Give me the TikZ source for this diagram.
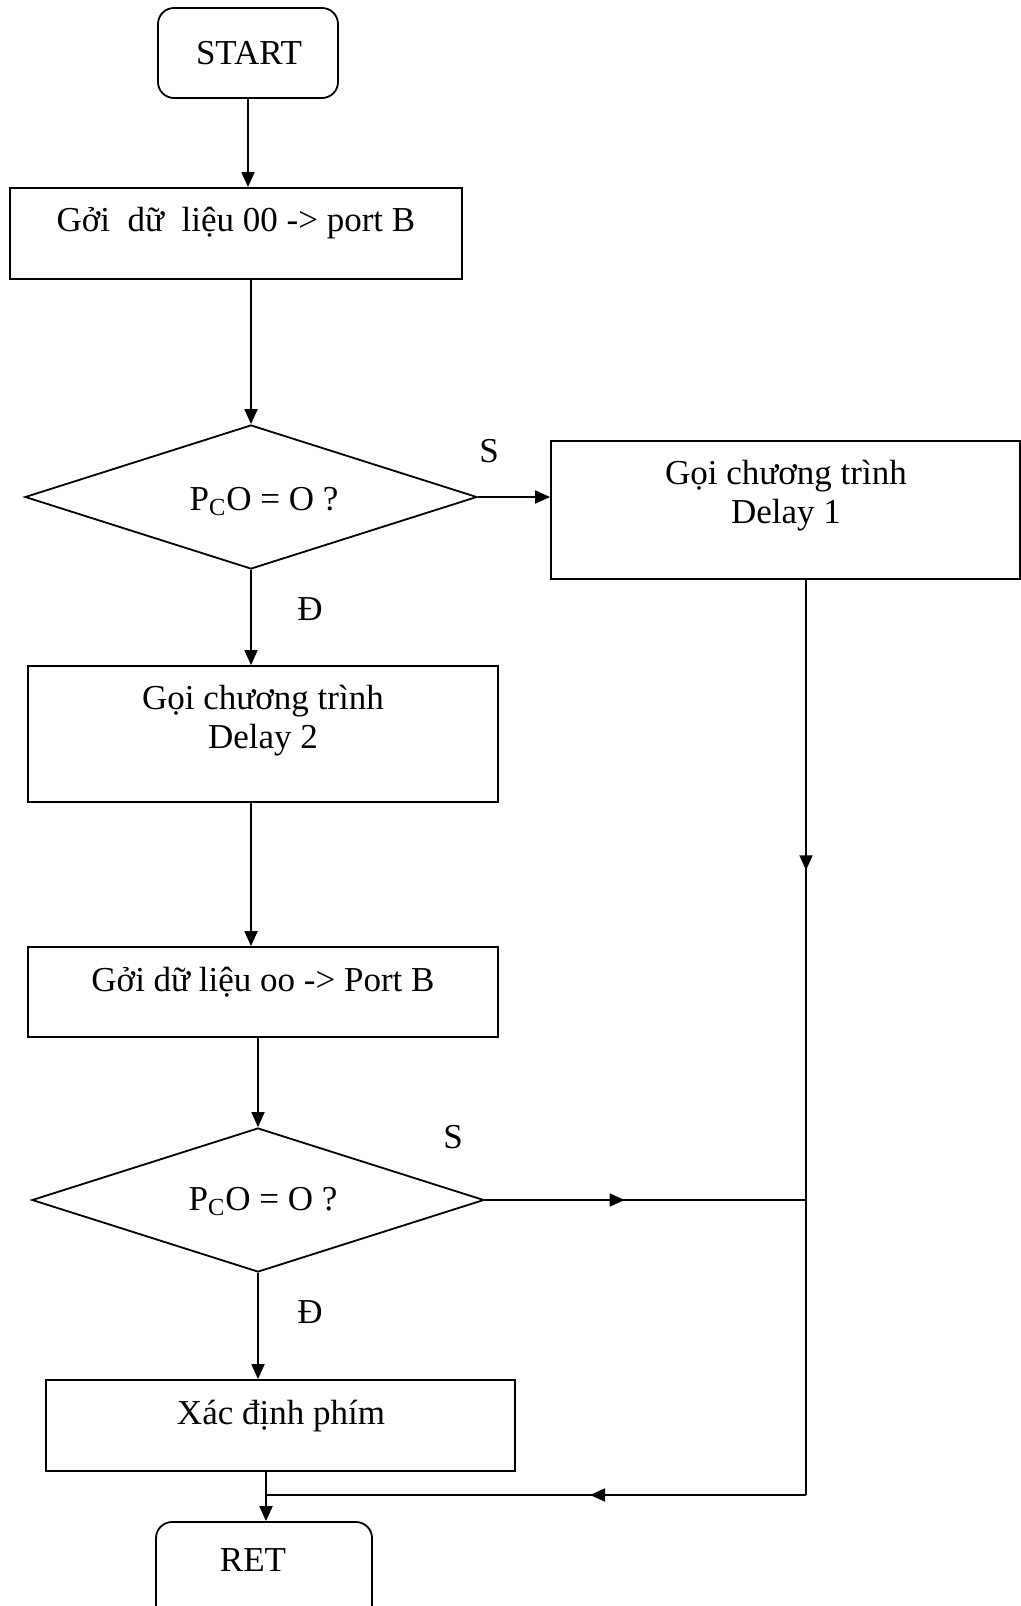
\documentclass[tikz,border=0pt]{standalone}
\usepackage{fontspec}
\setmainfont{Liberation Serif}
\usetikzlibrary{shapes.geometric,arrows.meta,decorations.markings}

\tikzset{
  box/.style={draw, line width=0.9pt, inner sep=0pt},
  term/.style={box, rounded corners=8pt},
  cond/.style={draw, line width=0.9pt, diamond, aspect=3.1, inner sep=0pt},
  txt/.style={anchor=base, inner sep=0pt, align=center, font=\fontsize{17.5}{19.5}\selectfont},
  flow/.style={line width=0.9pt, -{Triangle[length=7.5pt,width=6.5pt]}},
  link/.style={line width=0.9pt},
  midarrow/.style={postaction={decorate}, decoration={markings,
    mark=at position #1 with {\arrow{Triangle[length=7.5pt,width=6.5pt]}}}}
}

\begin{document}
\begin{tikzpicture}[x=0.5pt,y=-0.5pt]
\useasboundingbox (0,0) rectangle (1021,1606);
\clip (0,0) rectangle (1021,1606);
%blocks
\node[term, minimum width=90pt, minimum height=45pt] (start) at (248,53) {};
\node[box, minimum width=226pt, minimum height=45.5pt] (send1) at (236,233.5) {};
\node[cond, minimum width=226pt, minimum height=72pt] (test1) at (251,497) {};
\node[box, minimum width=234.5pt, minimum height=69pt] (delay1) at (785.5,510) {};
\node[box, minimum width=235pt, minimum height=68pt] (delay2) at (263,734) {};
\node[box, minimum width=235pt, minimum height=45pt] (send2) at (263,992) {};
\node[cond, minimum width=226pt, minimum height=72pt] (test2) at (258,1200) {};
\node[box, minimum width=234.5pt, minimum height=45.5pt] (key) at (280.5,1425.5) {};
\node[term, minimum width=108pt, minimum height=50pt] (ret) at (264,1572) {};
%texts
\node[txt] (tstart) at (249,64.5) {START};
\node[txt] (tsend1) at (236,231) {Gởi~ dữ~ liệu 00 -> port B};
\node[txt] (ttest1) at (264,510) {P\textsubscript{C}O = O ?};
\node[txt] (tdelay1) at (786,523) {Gọi chương trình\\Delay 1};
\node[txt] (tdelay2) at (263,748) {Gọi chương trình\\Delay 2};
\node[txt] (tsend2) at (263,991) {Gởi dữ liệu oo -> Port B};
\node[txt] (ttest2) at (263,1210) {P\textsubscript{C}O = O ?};
\node[txt] (tkey) at (281,1424) {Xác định phím};
\node[txt] (tret) at (253,1571) {RET};
%labels
\node[txt] (s1) at (489,462) {S};
\node[txt] (d1) at (310,620) {Đ};
\node[txt] (s2) at (453,1148) {S};
\node[txt] (d2) at (310,1323) {Đ};
%side line
\coordinate (r1) at (806,579);
\coordinate (r2) at (806,1200);
\coordinate (r3) at (806,1495);
\coordinate (j) at (266,1495);
%arrows
\draw[flow] (start.south) -- (start.south |- send1.north);
\draw[flow] (test1.north |- send1.south) -- (test1.north);
\draw[flow] (test1.east) -- (test1.east -| delay1.west);
\draw[flow] (test1.south) -- (test1.south |- delay2.north);
\draw[flow] (delay2.south -| test1.south) -- (test1.south |- send2.north);
\draw[flow] (send2.south -| test2.north) -- (test2.north);
\draw[flow] (test2.south) -- (test2.south |- key.north);
\draw[flow] (key.south -| j) -- (ret.north -| j);
\draw[link, midarrow=0.318] (r1) -- (r3);
\draw[link, midarrow=0.435] (test2.east) -- (r2);
\draw[link, midarrow=0.4] (r3) -- (j);
\end{tikzpicture}
\end{document}
